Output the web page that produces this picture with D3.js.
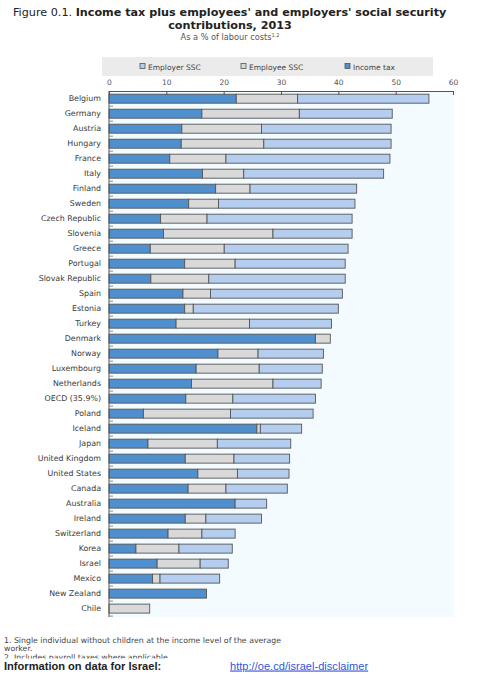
<html>
<head>
<script src="https://d3js.org/d3.v7.min.js"></script>
<style>
  body { margin: 0; background: white; }
  svg text { font-family: "DejaVu Sans", sans-serif; }
  svg text.arial { font-family: "Liberation Sans", Arial, sans-serif; }
</style>
</head>
<body>
<svg id="chart" width="489" height="682"></svg>
<script>
// values, % of labour costs
var countries = ["Belgium", "Germany", "Austria", "Hungary", "France", "Italy", "Finland", "Sweden",
  "Czech Republic", "Slovenia", "Greece", "Portugal", "Slovak Republic", "Spain", "Estonia", "Turkey",
  "Denmark", "Norway", "Luxembourg", "Netherlands", "OECD (35.9%)", "Poland", "Iceland", "Japan",
  "United Kingdom", "United States", "Canada", "Australia", "Ireland", "Switzerland", "Korea", "Israel",
  "Mexico", "New Zealand", "Chile"];
var incomeTax   = [22.2, 16.2, 12.7, 12.6, 10.6, 16.3, 18.6, 13.9, 9.0, 9.5, 7.2, 13.2, 7.3, 12.9, 13.2, 11.7,
  36.0, 19.0, 15.2, 14.4, 13.4, 6.0, 25.8, 6.8, 13.3, 15.5, 13.8, 22.0, 13.3, 10.3, 4.7, 8.4, 7.6, 17.0, 0];
var employeeSSC = [10.7, 17.0, 13.9, 14.4, 9.8, 7.2, 6.0, 5.2, 8.1, 19.1, 12.9, 8.8, 10.1, 4.8, 1.5, 12.8,
  2.6, 7.0, 11.0, 14.2, 8.2, 15.2, 0.6, 12.1, 8.5, 6.9, 6.6, 0, 3.6, 5.9, 7.5, 7.5, 1.3, 0, 7.1];
var employerSSC = [22.9, 16.2, 22.6, 22.2, 28.6, 24.4, 18.6, 23.8, 25.3, 13.8, 21.6, 19.2, 23.8, 23.0, 25.3, 14.3,
  0, 11.4, 11.0, 8.4, 14.4, 14.4, 7.2, 12.8, 9.7, 9.0, 10.7, 5.5, 9.7, 5.8, 9.3, 4.9, 10.4, 0, 0];
var xTicks = [0, 10, 20, 30, 40, 50, 60];
var seriesKeys = ["incomeTax", "employeeSSC", "employerSSC"];
var legendItems = [
  { key: "employerSSC", label: "Employer SSC" },
  { key: "employeeSSC", label: "Employee SSC" },
  { key: "incomeTax", label: "Income tax" }
];
var colors = { incomeTax: "#4f8fcd", employeeSSC: "#d9d9d9", employerSSC: "#b5cdee" };

var svg = d3.select("#chart");
svg.append("rect").attr("width", 489).attr("height", 682).attr("fill", "white");

// title
var t1 = svg.append("text").attr("x", 13).attr("y", 16).attr("font-size", 11).attr("fill", "#222");
t1.append("tspan").text("Figure 0.1. ");
t1.append("tspan").attr("font-weight", "bold").text("Income tax plus employees' and employers' social security");
var w1 = t1.node().getComputedTextLength();
t1.attr("font-size", 11 * 434 / w1);
svg.append("text").attr("x", 230).attr("y", 28.5).attr("text-anchor", "middle")
  .attr("font-size", 11 * 434 / w1).attr("font-weight", "bold").attr("fill", "#222")
  .text("contributions, 2013");
var sub = svg.append("text").attr("x", 230).attr("y", 39.5).attr("text-anchor", "middle")
  .attr("font-size", 8.2).attr("fill", "#555");
sub.append("tspan").text("As a % of labour costs");
sub.append("tspan").attr("font-size", 5).attr("dy", -3).text("1,2");

// data rows
var rows = countries.map(function (c, i) {
  return { country: c, incomeTax: incomeTax[i], employeeSSC: employeeSSC[i], employerSSC: employerSSC[i] };
});

var x = d3.scaleLinear().domain([0, 60]).range([109, 453]);
var y = d3.scaleBand().domain(countries).range([91.2, 616.1]).paddingInner(0.4).paddingOuter(0.2);

// plot background
svg.append("rect").attr("x", 109).attr("y", 91).attr("width", 345).attr("height", 526).attr("fill", "#f4fbff");

// legend
svg.append("rect").attr("x", 102).attr("y", 57).attr("width", 331).attr("height", 19).attr("fill", "#ebebeb");
var legX = [140, 241, 345];
var leg = svg.append("g").selectAll("g").data(legendItems).enter().append("g")
  .attr("transform", function (d, i) { return "translate(" + legX[i] + ",67)"; });
leg.append("rect").attr("x", 0).attr("y", -3.5).attr("width", 5).attr("height", 5)
  .attr("fill", function (d) { return colors[d.key]; }).attr("stroke", "#555").attr("stroke-width", 0.8);
leg.append("text").attr("x", 8).attr("y", 2.5).attr("font-size", 7.5).attr("fill", "#444")
  .text(function (d) { return d.label; });

// bars
var stack = d3.stack().keys(seriesKeys)(rows);
svg.append("g").selectAll("g").data(stack).enter().append("g")
  .attr("fill", function (s) { return colors[s.key]; })
  .selectAll("rect").data(function (s) { return s.filter(function (d) { return d[1] - d[0] > 0; }); })
  .enter().append("rect")
  .attr("x", function (d) { return x(d[0]); })
  .attr("y", function (d) { return y(d.data.country); })
  .attr("width", function (d) { return x(d[1]) - x(d[0]); })
  .attr("height", y.bandwidth())
  .attr("stroke", "#555").attr("stroke-width", 0.9);

// top axis
var xAxis = svg.append("g").attr("transform", "translate(0,91)")
  .call(d3.axisTop(x).tickValues(xTicks).tickSize(-4).tickPadding(6).tickSizeOuter(0));
xAxis.select(".domain").attr("stroke", "#555");
xAxis.selectAll(".tick line").attr("stroke", "#555");
xAxis.selectAll(".tick text").attr("font-size", 7.5).attr("fill", "#555").attr("font-family", "DejaVu Sans, sans-serif");

// left axis
var yAxis = svg.append("g").attr("transform", "translate(109,0)")
  .call(d3.axisLeft(y).tickSize(0).tickPadding(8));
yAxis.select(".domain").attr("stroke", "#555").attr("d", "M0,91V617");
yAxis.selectAll(".tick text").attr("font-size", 7.9).attr("fill", "#3a3a3a").attr("font-family", "DejaVu Sans, sans-serif");
svg.append("g").selectAll("line").data(countries).enter().append("line")
  .attr("x1", 109).attr("x2", 113)
  .attr("y1", function (d) { return y(d) + y.step() * 0.8; })
  .attr("y2", function (d) { return y(d) + y.step() * 0.8; })
  .attr("stroke", "#777").attr("stroke-width", 0.8);

// footnotes
var notes = ["1. Single individual without children at the income level of the average", "worker.",
  "2. Includes payroll taxes where applicable."];
svg.append("g").selectAll("text").data(notes).enter().append("text")
  .attr("x", 4).attr("y", function (d, i) { return 642.5 + i * 8.6; })
  .attr("font-size", 7.8).attr("fill", "#444").text(function (d) { return d; });
svg.append("rect").attr("x", 0).attr("y", 658.5).attr("width", 489).attr("height", 24).attr("fill", "white");
svg.append("text").attr("class", "arial").attr("x", 4).attr("y", 669.5).attr("font-size", 11.1).attr("font-weight", "bold")
  .attr("fill", "#222").text("Information on data for Israel:");
svg.append("text").attr("class", "arial").attr("x", 230).attr("y", 669.5).attr("font-size", 11.1).attr("fill", "#3355dd")
  .attr("text-decoration", "underline").text("http://oe.cd/israel-disclaimer");
</script>
</body>
</html>
